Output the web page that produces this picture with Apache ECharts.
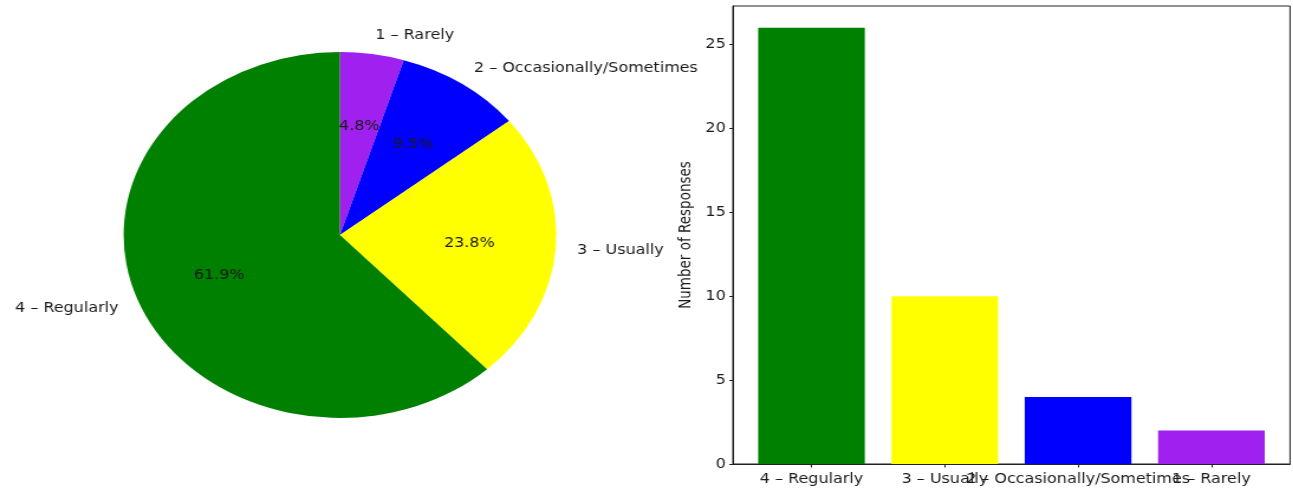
<!DOCTYPE html>
<html>
<head>
<meta charset="utf-8">
<script src="https://cdn.jsdelivr.net/npm/echarts@6/dist/echarts.min.js"></script>
<style>
html,body{margin:0;padding:0;background:#fff;overflow:hidden}
#wrap{width:1293px;height:488px;overflow:hidden;position:relative}
#chart{width:1094px;height:488px;transform:scaleX(1.182);transform-origin:0 0}
</style>
</head>
<body>
<div id="wrap"><div id="chart"></div></div>
<script>
// ---- data ----
const pieCategories = ['1 – Rarely', '2 – Occasionally/Sometimes', '3 – Usually', '4 – Regularly'];
const pieValues = [2, 4, 10, 26];
const barCategories = ['4 – Regularly', '3 – Usually', '2 – Occasionally/Sometimes', '1 – Rarely'];
const barValues = [26, 10, 4, 2];
const barPositions = [0, 1, 2, 3];
const yTicks = [0, 5, 10, 15, 20, 25];
const yLabel = 'Number of Responses';

// ---- styles ----
const colorMap = {
  '1 – Rarely': '#a020f0',
  '2 – Occasionally/Sometimes': '#0000ff',
  '3 – Usually': '#ffff00',
  '4 – Regularly': '#008000'
};
const FONT = 'DejaVu Sans';
const TXT = '#1a1a1a';
const FS = 13.5;

const chart = echarts.init(document.getElementById('chart'), null, {renderer: 'canvas'});

// x axes: labels split over two axes so overlapping labels are all drawn (as in the reference)
function makeXAxis(labelValues, main) {
  return {
    type: 'value', min: -0.59, max: 3.59, position: 'bottom', offset: 0,
    splitLine: {show: false},
    axisLine: {show: main, onZero: false, lineStyle: {color: '#222', width: 1}},
    axisTick: {show: main, length: 3.5, customValues: barPositions, lineStyle: {color: '#222'}},
    axisLabel: {
      customValues: labelValues, margin: 8, fontSize: FS, fontFamily: FONT, color: TXT,
      hideOverlap: false, showMinLabel: true, showMaxLabel: true,
      formatter: v => barCategories[Math.round(v)]
    }
  };
}

const option = {
  animation: false,
  backgroundColor: '#fff',
  grid: {
    left: 620, top: 6, right: 2.6, bottom: 24,
    show: true, borderColor: '#222', borderWidth: 1, backgroundColor: 'transparent'
  },
  xAxis: [
    makeXAxis(barPositions.filter(p => p % 2 === 0), true),
    makeXAxis(barPositions.filter(p => p % 2 === 1), false)
  ],
  yAxis: {
    type: 'value', min: 0, max: 27.3,
    splitLine: {show: false},
    axisLine: {show: true, onZero: false, lineStyle: {color: '#222', width: 1}},
    axisTick: {show: true, length: 3, customValues: yTicks, lineStyle: {color: '#222'}},
    axisLabel: {customValues: yTicks, margin: 6, fontSize: FS, fontFamily: FONT, color: TXT,
      showMinLabel: true, showMaxLabel: true},
    name: yLabel, nameLocation: 'middle', nameRotate: 90, nameGap: 33,
    nameTextStyle: {fontSize: FS, fontFamily: FONT, color: TXT}
  },
  series: [
    {
      type: 'pie',
      center: [287.6, 235],
      radius: [0, 183],
      startAngle: 90,
      clockwise: true,
      avoidLabelOverlap: false,
      emphasis: {disabled: true},
      itemStyle: {borderWidth: 0},
      data: pieCategories.map((c, i) => ({name: c, value: pieValues[i], itemStyle: {color: colorMap[c]}})),
      label: {
        show: true, position: 'outside', formatter: '{b}',
        fontSize: FS, fontFamily: FONT, color: TXT, distanceToLabelLine: 0
      },
      labelLine: {show: false, length: 18.3, length2: 0}
    },
    {
      type: 'pie',
      center: [287.6, 235],
      radius: [30.6, 183],
      startAngle: 90,
      clockwise: true,
      silent: true,
      avoidLabelOverlap: false,
      percentPrecision: 1,
      itemStyle: {color: 'rgba(0,0,0,0)', borderWidth: 0},
      data: pieCategories.map((c, i) => ({name: c, value: pieValues[i]})),
      label: {
        show: true, position: 'inside',
        formatter: p => p.percent.toFixed(1) + '%',
        fontSize: FS, fontFamily: FONT, color: TXT
      },
      labelLine: {show: false}
    },
    {
      type: 'bar',
      xAxisIndex: 0,
      barWidth: '80%',
      data: barCategories.map((c, i) => ({value: [barPositions[i], barValues[i]], itemStyle: {color: colorMap[c]}}))
    }
  ]
};
chart.setOption(option);
</script>
</body>
</html>
